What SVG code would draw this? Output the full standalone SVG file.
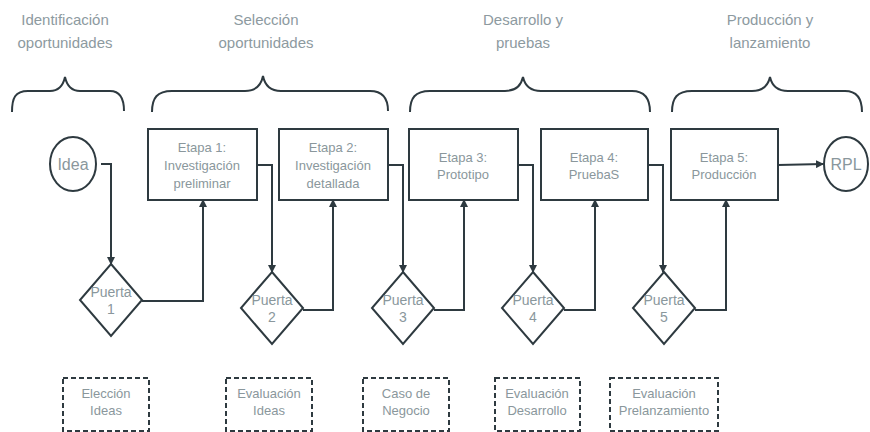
<svg xmlns="http://www.w3.org/2000/svg" width="870" height="432" viewBox="0 0 870 432">
<style>
text{font-family:"Liberation Sans",Arial,sans-serif;text-anchor:middle;}
.title{font-size:15px;fill:#8d9a9f;}
.lbl{font-size:13px;fill:#8a979c;}
.big{font-size:16px;fill:#8a979c;}
.shape{fill:#fff;stroke:#2e3a40;stroke-width:2;}
.dash{fill:#fff;stroke:#2e3a40;stroke-width:2;stroke-dasharray:5,3;}
.brace{fill:none;stroke:#2e3a40;stroke-width:2;}
.conn{fill:none;stroke:#2e3a40;stroke-width:2;}
</style>
<defs>
<marker id="arr" markerWidth="8" markerHeight="8" refX="7" refY="4" orient="auto" markerUnits="userSpaceOnUse">
<path d="M0,0 L8,4 L0,8 z" fill="#2e3a40"/>
</marker>
</defs>
<rect width="870" height="432" fill="#fff"/>

<g id="phase-titles">
<text class="title" x="65" y="25">Identificación</text>
<text class="title" x="65" y="48">oportunidades</text>
<text class="title" x="266" y="25">Selección</text>
<text class="title" x="266" y="48">oportunidades</text>
<text class="title" x="523" y="25">Desarrollo y</text>
<text class="title" x="523" y="48">pruebas</text>
<text class="title" x="770" y="25">Producción y</text>
<text class="title" x="770" y="48">lanzamiento</text>
</g>

<g id="braces">
<path class="brace" d="M12,112 C12,98 15,91 28,91 L50,91 C58,91 63,86 65,77 C67,86 72,91 80,91 L110,91 C120,91 124,98 124,111"/>
<path class="brace" d="M152,112 C152,98 157,91 172,91 L245,91 C255,91 261,86 263,76 C265,86 271,91 281,91 L370,91 C382,91 388,98 388,111"/>
<path class="brace" d="M410,112 C410,98 415,91 430,91 L505,91 C515,91 521,86 523,77 C525,86 531,91 541,91 L632,91 C644,91 650,98 650,112"/>
<path class="brace" d="M672,112 C672,98 677,91 692,91 L752,91 C762,91 768,86 770,77 C772,86 778,91 788,91 L845,91 C856,91 862,98 862,112"/>
</g>

<g id="connectors">
<path class="conn" d="M101,164 H111 V264" marker-end="url(#arr)"/>
<path class="conn" d="M142,301 H203 V200" marker-end="url(#arr)"/>
<path class="conn" d="M257,165 H272 V272" marker-end="url(#arr)"/>
<path class="conn" d="M303,310 H333 V200" marker-end="url(#arr)"/>
<path class="conn" d="M388,165 H403 V272" marker-end="url(#arr)"/>
<path class="conn" d="M434,310 H464 V200" marker-end="url(#arr)"/>
<path class="conn" d="M518,165 H533 V272" marker-end="url(#arr)"/>
<path class="conn" d="M564,310 H595 V200" marker-end="url(#arr)"/>
<path class="conn" d="M648,165 H663 V272" marker-end="url(#arr)"/>
<path class="conn" d="M695,310 H726 V200" marker-end="url(#arr)"/>
<path class="conn" d="M778,165 L823,164" marker-end="url(#arr)"/>
</g>

<g id="idea">
<ellipse class="shape" cx="73" cy="164" rx="23" ry="27"/>
<text class="big" x="73" y="170">Idea</text>
</g>

<g id="rpl">
<ellipse class="shape" cx="846" cy="164" rx="22" ry="27"/>
<text class="big" x="846" y="170">RPL</text>
</g>

<g id="etapa1">
<rect class="shape" x="148" y="129" width="109" height="71"/>
<text class="lbl" x="202" y="152">Etapa 1:</text>
<text class="lbl" x="202" y="170">Investigación</text>
<text class="lbl" x="202" y="188">preliminar</text>
</g>
<g id="etapa2">
<rect class="shape" x="279" y="129" width="109" height="71"/>
<text class="lbl" x="333" y="152">Etapa 2:</text>
<text class="lbl" x="333" y="170">Investigación</text>
<text class="lbl" x="333" y="188">detallada</text>
</g>
<g id="etapa3">
<rect class="shape" x="409" y="129" width="109" height="71"/>
<text class="lbl" x="463" y="162">Etapa 3:</text>
<text class="lbl" x="463" y="179">Prototipo</text>
</g>
<g id="etapa4">
<rect class="shape" x="541" y="129" width="107" height="71"/>
<text class="lbl" x="594" y="162">Etapa 4:</text>
<text class="lbl" x="594" y="179">PruebaS</text>
</g>
<g id="etapa5">
<rect class="shape" x="671" y="129" width="107" height="71"/>
<text class="lbl" x="724" y="162">Etapa 5:</text>
<text class="lbl" x="724" y="179">Producción</text>
</g>

<g id="puerta1">
<polygon class="shape" points="111,264 142,300 111,336 80,300"/>
<text class="lbl" x="111" y="297" style="font-size:14px">Puerta</text>
<text class="lbl" x="111" y="314" style="font-size:14px">1</text>
</g>
<g id="puerta2">
<polygon class="shape" points="272,272 303,308 272,344 241,308"/>
<text class="lbl" x="272" y="305" style="font-size:14px">Puerta</text>
<text class="lbl" x="272" y="322" style="font-size:14px">2</text>
</g>
<g id="puerta3">
<polygon class="shape" points="403,272 434,308 403,344 372,308"/>
<text class="lbl" x="403" y="305" style="font-size:14px">Puerta</text>
<text class="lbl" x="403" y="322" style="font-size:14px">3</text>
</g>
<g id="puerta4">
<polygon class="shape" points="533,272 564,308 533,344 502,308"/>
<text class="lbl" x="533" y="305" style="font-size:14px">Puerta</text>
<text class="lbl" x="533" y="322" style="font-size:14px">4</text>
</g>
<g id="puerta5">
<polygon class="shape" points="664,272 695,308 664,344 633,308"/>
<text class="lbl" x="664" y="305" style="font-size:14px">Puerta</text>
<text class="lbl" x="664" y="322" style="font-size:14px">5</text>
</g>

<g id="eleccion-ideas">
<rect class="dash" x="63" y="378" width="86" height="53"/>
<text class="lbl" x="106" y="398">Elección</text>
<text class="lbl" x="106" y="415">Ideas</text>
</g>
<g id="evaluacion-ideas">
<rect class="dash" x="226" y="378" width="86" height="53"/>
<text class="lbl" x="269" y="398">Evaluación</text>
<text class="lbl" x="269" y="415">Ideas</text>
</g>
<g id="caso-negocio">
<rect class="dash" x="363" y="378" width="86" height="53"/>
<text class="lbl" x="406" y="398">Caso de</text>
<text class="lbl" x="406" y="415">Negocio</text>
</g>
<g id="evaluacion-desarrollo">
<rect class="dash" x="495" y="378" width="85" height="53"/>
<text class="lbl" x="537" y="398">Evaluación</text>
<text class="lbl" x="537" y="415">Desarrollo</text>
</g>
<g id="evaluacion-prelanzamiento">
<rect class="dash" x="610" y="378" width="108" height="53"/>
<text class="lbl" x="664" y="398">Evaluación</text>
<text class="lbl" x="664" y="415">Prelanzamiento</text>
</g>
</svg>
